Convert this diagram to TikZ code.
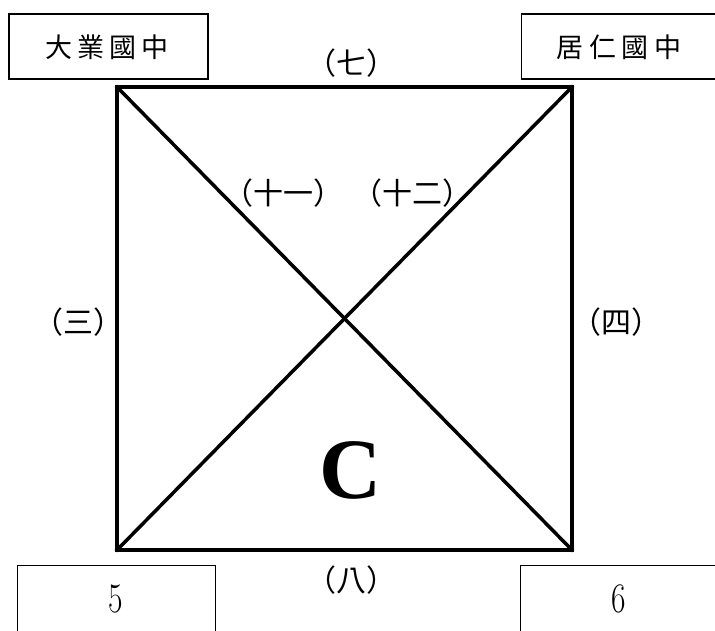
\documentclass[tikz,border=0pt]{standalone}
\usepackage{fontspec}
\setmainfont{Liberation Serif}
\newfontfamily\cjk{Noto Sans CJK TC}
\newfontfamily\lmr{Latin Modern Roman}
\newcommand{\cb}[2]{\makebox[#1][c]{#2}}
\begin{document}
\begin{tikzpicture}[x=1pt,y=-1pt,
  namebox/.style={draw,line width=1.3pt,inner sep=0pt,minimum width=199pt,minimum height=65pt},
  boxtxt/.style={inner sep=0pt,font=\cjk\fontsize{27}{27}\selectfont},
  lbl/.style={inner sep=0pt,font=\cjk\fontsize{30}{30}\selectfont},
  numbox/.style={draw,line width=1.3pt,inner sep=0pt,anchor=north west,minimum width=198pt,minimum height=70pt},
  num/.style={inner sep=0pt,font=\lmr\fontsize{42}{42}\selectfont},
  edge/.style={line width=3.5pt,line cap=rect,line join=miter}]
\useasboundingbox (0,0) rectangle (715,631);
\coordinate (tl) at (117,87);
\coordinate (tr) at (572,87);
\coordinate (br) at (572,550);
\coordinate (bl) at (117,550);
\draw[edge] (tl) -- (tr) -- (br) -- (bl) -- cycle;
\draw[edge] (tl) -- (br);
\draw[edge] (tr) -- (bl);
\node[namebox] (b1) at (108.5,46.5) {};
\node[namebox,anchor=west] (b2) at (521,46.5) {};
\node[boxtxt] (t1) at (107,47) {\cb{32pt}{大}\cb{32pt}{業}\cb{32pt}{國}\cb{32pt}{中}};
\node[boxtxt] (t2) at (619,47) {\cb{33pt}{居}\cb{33pt}{仁}\cb{33pt}{國}\cb{33pt}{中}};
\node[numbox] (b3) at (17,565) {};
\node[numbox] (b4) at (520,565) {};
\node[num] (n5) at (116,599) {\scalebox{0.75}[1]{5}};
\node[num] (n6) at (619,599) {\scalebox{0.75}[1]{6}};
\node[lbl] (l7) at (351,63) {（七）};
\node[lbl] (l11) at (283,193) {（十一）};
\node[lbl] (l12) at (412,193) {（十二）};
\node[lbl] (l3) at (79,322) {（三）};
\node[lbl] (l4) at (616,322) {（四）};
\node[lbl] (l8) at (351,580) {（八）};
\node[inner sep=0pt,font=\bfseries\fontsize{86}{86}\selectfont] (c) at (351,470) {C};
\end{tikzpicture}
\end{document}
